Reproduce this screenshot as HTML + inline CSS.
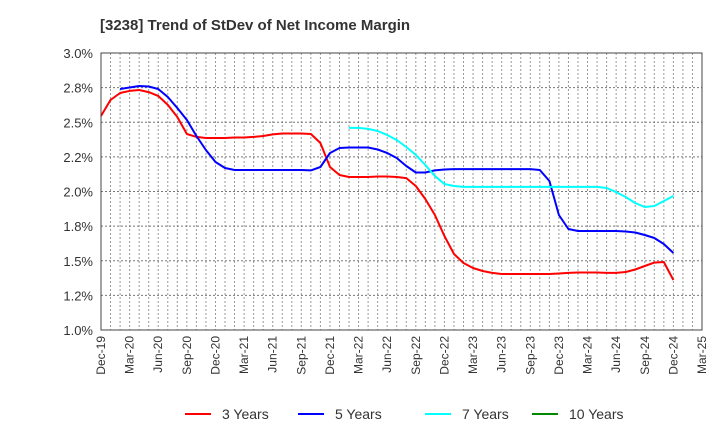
<!DOCTYPE html>
<html><head><meta charset="utf-8"><style>
body{margin:0;background:#fff;font-family:"Liberation Sans",sans-serif}
</style></head><body>
<svg id="c" width="720" height="440" xmlns="http://www.w3.org/2000/svg" style="font-family:'Liberation Sans',sans-serif">
<text x="100" y="30" font-size="15" font-weight="bold" fill="#333">[3238]  Trend of StDev of Net Income Margin</text>
<g id="grid"></g><g id="series"></g><g id="axes"></g>
<g>
<g><line x1="185" y1="414" x2="211" y2="414" stroke="#f00" stroke-width="2"/><text x="222" y="419" font-size="14" fill="#333">3 Years</text></g>
<g><line x1="298" y1="414" x2="324" y2="414" stroke="#00f" stroke-width="2"/><text x="335" y="419" font-size="14" fill="#333">5 Years</text></g>
<g><line x1="425" y1="414" x2="451" y2="414" stroke="#0ff" stroke-width="2"/><text x="462" y="419" font-size="14" fill="#333">7 Years</text></g>
<g><line x1="532" y1="414" x2="558" y2="414" stroke="#080" stroke-width="2"/><text x="569" y="419" font-size="14" fill="#333">10 Years</text></g>
</g>
</svg>
<script>
const xLabels=["Dec-19","Mar-20","Jun-20","Sep-20","Dec-20","Mar-21","Jun-21","Sep-21","Dec-21","Mar-22","Jun-22","Sep-22","Dec-22","Mar-23","Jun-23","Sep-23","Dec-23","Mar-24","Jun-24","Sep-24","Dec-24","Mar-25"];
const yTicks=[1.0,1.25,1.5,1.75,2.0,2.25,2.5,2.75,3.0];
const yTickLabels=["1.0%","1.2%","1.5%","1.8%","2.0%","2.2%","2.5%","2.8%","3.0%"];
const red=[2.545,2.661,2.711,2.726,2.733,2.718,2.690,2.625,2.538,2.415,2.394,2.386,2.386,2.386,2.390,2.390,2.394,2.401,2.412,2.419,2.419,2.419,2.415,2.350,2.177,2.119,2.105,2.105,2.105,2.108,2.108,2.105,2.097,2.040,1.946,1.830,1.679,1.549,1.484,1.448,1.426,1.412,1.404,1.404,1.404,1.404,1.404,1.404,1.408,1.412,1.415,1.415,1.415,1.412,1.412,1.419,1.437,1.462,1.487,1.491,1.361];
const blue=[null,null,2.740,2.751,2.762,2.758,2.740,2.682,2.603,2.516,2.401,2.300,2.213,2.170,2.155,2.155,2.155,2.155,2.155,2.155,2.155,2.155,2.152,2.177,2.278,2.314,2.318,2.318,2.318,2.303,2.278,2.242,2.184,2.137,2.137,2.152,2.159,2.162,2.162,2.162,2.162,2.162,2.162,2.162,2.162,2.162,2.155,2.076,1.830,1.729,1.715,1.715,1.715,1.715,1.715,1.711,1.704,1.686,1.664,1.621,1.556];
const cyanStart=26;
const cyan=[2.459,2.459,2.452,2.437,2.408,2.372,2.321,2.264,2.191,2.112,2.054,2.040,2.033,2.033,2.033,2.033,2.033,2.033,2.033,2.033,2.033,2.033,2.033,2.033,2.033,2.033,2.033,2.025,1.996,1.960,1.917,1.888,1.895,1.931,1.968];
const green=[];
const L=101,R=702,T=53,B=330,months=63;
const NS="http://www.w3.org/2000/svg";
function X(i){return L+(R-L)*i/months;}
function Y(v){return B-(v-1.0)/2.0*(B-T);}
function mk(t,a,p){const e=document.createElementNS(NS,t);for(const k in a)e.setAttribute(k,a[k]);p.appendChild(e);return e;}
const grid=document.getElementById('grid'),axes=document.getElementById('axes'),ser=document.getElementById('series');
for(let m=1;m<months;m++){const l=mk('line',{x1:X(m),x2:X(m),y1:T,y2:B,stroke:'#999','stroke-dasharray':'2,2','stroke-width':1},grid);

}
yTicks.forEach((v,k)=>{const l=mk('line',{x1:L,x2:R,y1:Y(v),y2:Y(v),stroke:'#777','stroke-dasharray':'2,2','stroke-width':1},grid);


const t=mk('text',{x:L-8,y:Y(v)+5,'text-anchor':'end','font-size':13,fill:'#333'},axes);t.textContent=yTickLabels[k];

});
const fr=mk('rect',{x:L,y:T,width:R-L,height:B-T,fill:'none',stroke:'#444','stroke-width':1},axes);


xLabels.forEach((s,k)=>{const x=X(k*3);const t=mk('text',{x:0,y:0,transform:`translate(${x+4},${B+6}) rotate(-90)`,'text-anchor':'end','font-size':12,fill:'#333'},axes);t.textContent=s;

});
function line(arr,off,col,name){let d='';let pen=false;arr.forEach((v,k)=>{if(v==null){pen=false;return;}d+=(pen?'L':'M')+X(k+off).toFixed(1)+','+Y(v).toFixed(1);pen=true;});
if(!d)return;const p=mk('path',{d:d,fill:'none',stroke:col,'stroke-width':2,'stroke-linejoin':'round'},ser);

}
line(red,0,'#f00','series-3-years');
line(blue,0,'#00f','series-5-years');
line(cyan,cyanStart,'#0ff','series-7-years');
line(green,0,'#080','series-10-years');
</script>
</body></html>
